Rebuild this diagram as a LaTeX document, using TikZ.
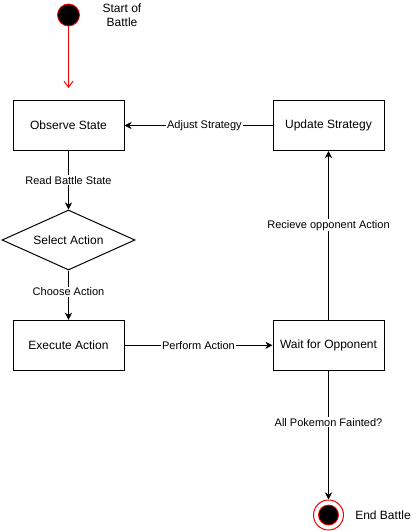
\documentclass[tikz,border=0pt]{standalone}
\usepackage{fontspec}
\setmainfont{Liberation Sans}
\usetikzlibrary{arrows.meta}
\usetikzlibrary{shapes.geometric}

\tikzset{
  state/.style={draw, line width=1pt, minimum width=111pt, minimum height=50pt, inner sep=0pt, font=\fontsize{12}{14}\selectfont},
  choice/.style={diamond, aspect=2.2, draw, line width=1pt, minimum width=133pt, minimum height=60pt, inner sep=0pt, font=\fontsize{12}{14}\selectfont},
  flow/.style={line width=1pt, -{Stealth[length=7pt,width=7pt,inset=2pt]}},
  lbl/.style={fill=white, inner sep=1pt, font=\fontsize{11}{13}\selectfont},
  note/.style={font=\fontsize{12}{14}\selectfont, align=center}
}

\begin{document}
\begin{tikzpicture}[x=1pt,y=-1pt]
    \useasboundingbox (0,0) rectangle (413,531);

    %start and end
    \node[circle, fill=black, draw=red, line width=0.8pt, minimum size=22pt, inner sep=0pt] (start) at (68.5,15) {};
    \node[note] (startlbl) at (122,15.5) {Start of\\Battle};
    \coordinate (startend) at (68.5,88);
    \node[circle, fill=white, draw=red, line width=1pt, minimum size=30pt, inner sep=0pt] (stop) at (328.5,515) {};
    \node[circle, fill=black, draw=red, line width=0.8pt, minimum size=20pt, inner sep=0pt] (stopdot) at (stop) {};
    \node[note] (stoplbl) at (383,515) {End Battle};

    %states
    \node[state] (observe) at (68.5,125.5) {Observe State};
    \node[state] (update) at (328.5,125.5) {Update Strategy};
    \node[choice] (select) at (68.5,240) {Select Action};
    \node[state] (execute) at (68.5,345.3) {Execute Action};
    \node[state] (wait) at (328.5,345.3) {Wait for Opponent};

    %transitions
    \draw[red, line width=1pt, -{Straight Barb[length=6pt,width=9pt]}] (start) -- (startend);
    \draw[flow] (update) -- node[lbl, pos=0.46] {Adjust Strategy} (observe);
    \draw[flow] (observe) -- node[lbl] {Read Battle State} (select);
    \draw[flow] (select) -- node[lbl, pos=0.43] {Choose Action} (execute);
    \draw[flow] (execute) -- node[lbl] {Perform Action} (wait);
    \draw[flow] (wait) -- node[lbl, pos=0.56] {Recieve opponent Action} (update);
    \draw[flow] (wait) -- node[lbl, pos=0.4] {All Pokemon Fainted?} (stop);
\end{tikzpicture}
\end{document}
